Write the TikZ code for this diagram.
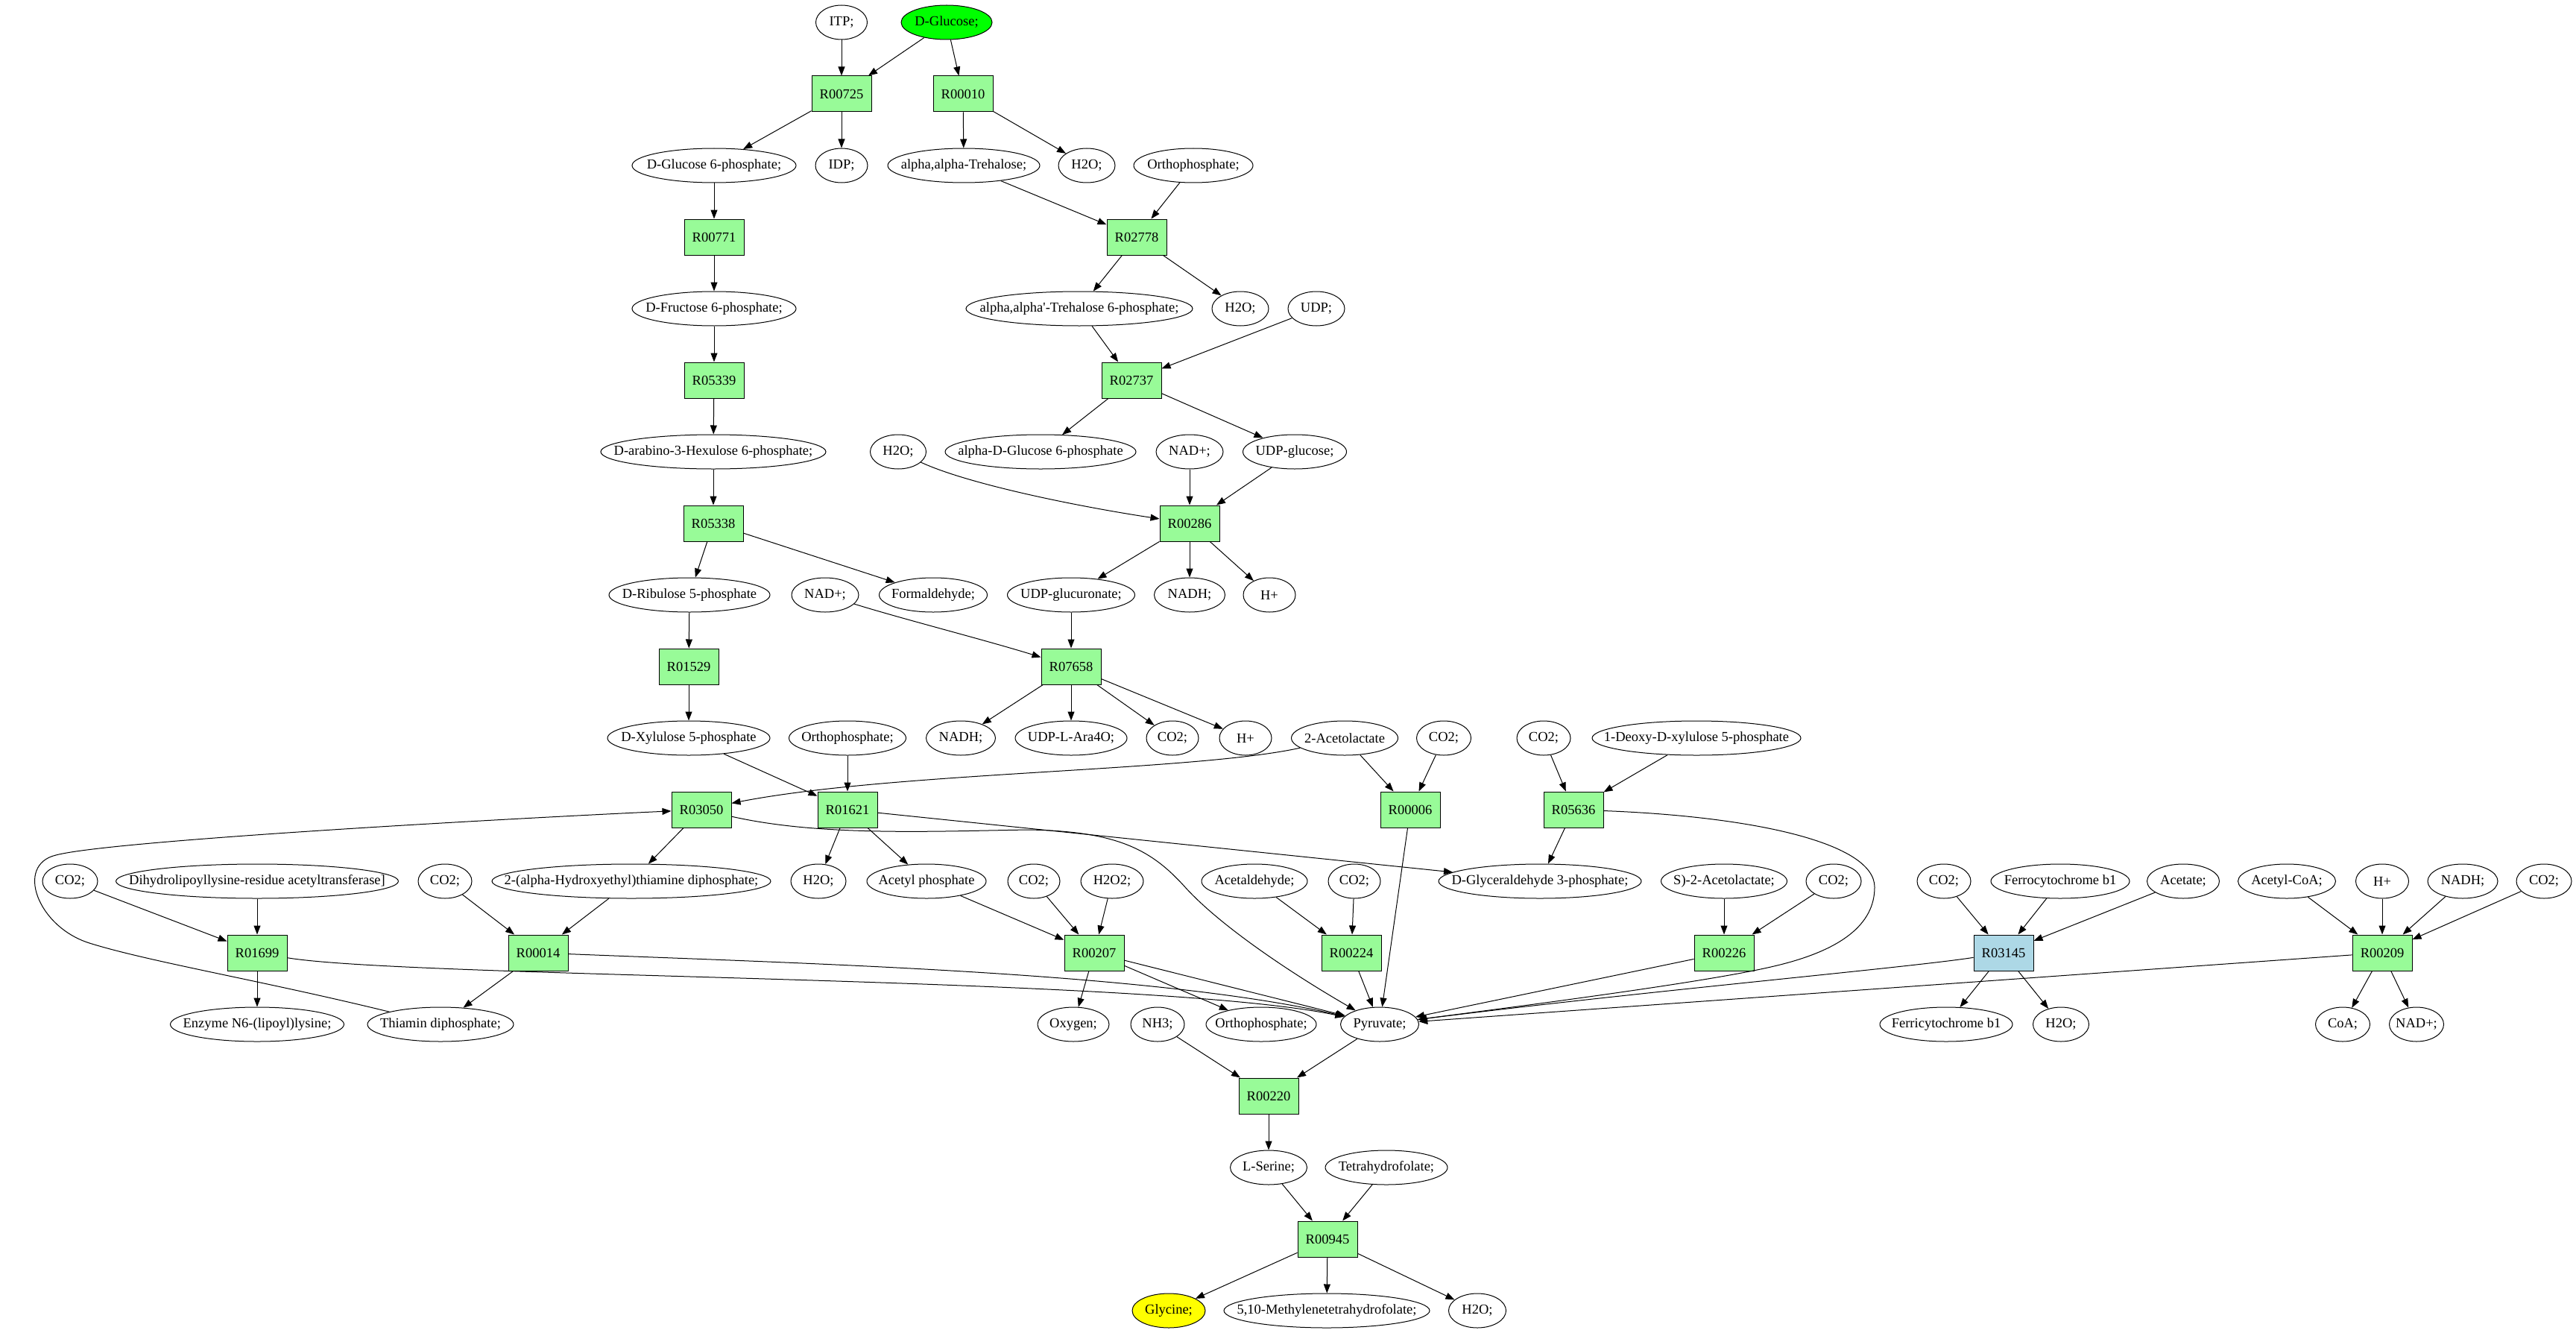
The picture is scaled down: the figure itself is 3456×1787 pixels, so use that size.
\documentclass[tikz,border=0pt]{standalone}
\usepackage{fontspec}
\setmainfont{Liberation Serif}
\usetikzlibrary{shapes.geometric,arrows.meta}
\definecolor{rgreen}{HTML}{98FB98}
\definecolor{rblue}{HTML}{ADD8E6}
\definecolor{sgreen}{HTML}{00FF00}
\definecolor{syellow}{HTML}{FFFF00}
\newcommand\tx[1]{\makebox[0pt]{#1}}
\begin{document}
\begin{tikzpicture}[x=0.5pt,y=-0.5pt,
  every node/.style={font=\fontsize{9.25pt}{11pt}\selectfont},
  met/.style={ellipse,draw,line width=0.5pt,inner sep=0pt,minimum height=23pt,minimum width=#1*0.5pt},
  rxn/.style={rectangle,draw,line width=0.5pt,fill=rgreen,inner sep=0pt,minimum width=40pt,minimum height=24pt},
  arr/.style={-{Triangle[length=6pt,width=4.5pt]},line width=0.5pt}]
\useasboundingbox[fill=white] (0,0) rectangle (3456,1787);
% rank 0
\node[met=69] (itp) at (1129,30) {\tx{ITP;}};
\node[met=122,fill=sgreen] (glc) at (1270,30) {\tx{D-Glucose;}};
% rank 1
\node[rxn] (r00725) at (1129,126) {R00725};
\node[rxn] (r00010) at (1292,126) {R00010};
% rank 2
\node[met=220] (g6p) at (958,222) {\tx{D-Glucose 6-phosphate;}};
\node[met=70] (idp) at (1129,222) {\tx{IDP;}};
\node[met=204] (tre) at (1293,222) {\tx{alpha,alpha-Trehalose;}};
\node[met=76] (h2oa) at (1458,222) {\tx{H2O;}};
\node[met=160] (phosa) at (1601,222) {\tx{Orthophosphate;}};
% rank 3
\node[rxn] (r00771) at (958,318) {R00771};
\node[rxn] (r02778) at (1525,318) {R02778};
% rank 4
\node[met=220] (f6p) at (958,414) {\tx{D-Fructose 6-phosphate;}};
\node[met=304] (t6p) at (1448,414) {\tx{alpha,alpha\textquotesingle-Trehalose 6-phosphate;}};
\node[met=76] (h2ob) at (1664,414) {\tx{H2O;}};
\node[met=76] (udp) at (1766,414) {\tx{UDP;}};
% rank 5
\node[rxn] (r05339) at (958,510) {R05339};
\node[rxn] (r02737) at (1518,510) {R02737};
% rank 6
\node[met=302] (hex) at (957,606) {\tx{D-arabino-3-Hexulose 6-phosphate;}};
\node[met=75] (h2oc) at (1205,606) {\tx{H2O;}};
\node[met=256] (ag6p) at (1396,606) {\tx{alpha-D-Glucose 6-phosphate}};
\node[met=90] (nada) at (1596,606) {\tx{NAD+;}};
\node[met=139] (udpg) at (1737,606) {\tx{UDP-glucose;}};
% rank 7
\node[rxn] (r05338) at (957,702) {R05338};
\node[rxn] (r00286) at (1596,702) {R00286};
% rank 8
\node[met=216] (ru5p) at (925,798) {\tx{D-Ribulose 5-phosphate}};
\node[met=90] (nadb) at (1107,798) {\tx{NAD+;}};
\node[met=145] (form) at (1252,798) {\tx{Formaldehyde;}};
\node[met=171] (udpgn) at (1437,798) {\tx{UDP-glucuronate;}};
\node[met=95] (nadha) at (1596,798) {\tx{NADH;}};
\node[met=70] (ha) at (1703,798) {\tx{H+}};
% rank 9
\node[rxn] (r01529) at (924,894) {R01529};
\node[rxn] (r07658) at (1437,894) {R07658};
% rank 10
\node[met=218] (xu5p) at (924,990) {\tx{D-Xylulose 5-phosphate}};
\node[met=157] (phosb) at (1137,990) {\tx{Orthophosphate;}};
\node[met=93] (nadhb) at (1289,990) {\tx{NADH;}};
\node[met=150] (ara) at (1437,990) {\tx{UDP-L-Ara4O;}};
\node[met=70] (co2a) at (1573,990) {\tx{CO2;}};
\node[met=70] (hb) at (1671,990) {\tx{H+}};
\node[met=143] (acl) at (1804,990) {\tx{2-Acetolactate}};
\node[met=73] (co2b) at (1937,990) {\tx{CO2;}};
\node[met=72] (co2c) at (2071,990) {\tx{CO2;}};
\node[met=280] (dxp) at (2276,990) {\tx{1-Deoxy-D-xylulose 5-phosphate}};
% rank 11
\node[rxn] (r03050) at (941,1086) {R03050};
\node[rxn] (r01621) at (1137,1086) {R01621};
\node[rxn] (r00006) at (1892,1086) {R00006};
\node[rxn] (r05636) at (2111,1086) {R05636};
% rank 12
\node[met=74] (co2d) at (94,1182) {\tx{CO2;}};
\node[met=379] (dla) at (345,1182) {\tx{Dihydrolipoyllysine-residue acetyltransferase]}};
\node[met=72] (co2e) at (597,1182) {\tx{CO2;}};
\node[met=374] (het) at (847,1182) {\tx{2-(alpha-Hydroxyethyl)thiamine diphosphate;}};
\node[met=74] (h2od) at (1098,1182) {\tx{H2O;}};
\node[met=160] (acp) at (1243,1182) {\tx{Acetyl phosphate}};
\node[met=70] (co2f) at (1387,1182) {\tx{CO2;}};
\node[met=84] (h2o2) at (1492,1182) {\tx{H2O2;}};
\node[met=142] (acald) at (1683,1182) {\tx{Acetaldehyde;}};
\node[met=70] (co2g) at (1817,1182) {\tx{CO2;}};
\node[met=272] (gap) at (2066,1182) {\tx{D-Glyceraldehyde 3-phosphate;}};
\node[met=169] (sacl) at (2313,1182) {\tx{S)-2-Acetolactate;}};
\node[met=74] (co2h) at (2460,1182) {\tx{CO2;}};
\node[met=72] (co2i) at (2608,1182) {\tx{CO2;}};
\node[met=186] (ferro) at (2764,1182) {\tx{Ferrocytochrome b1}};
\node[met=97] (acet) at (2929,1182) {\tx{Acetate;}};
\node[met=131] (accoa) at (3068,1182) {\tx{Acetyl-CoA;}};
\node[met=71] (hc) at (3196,1182) {\tx{H+}};
\node[met=94] (nadhc) at (3304,1182) {\tx{NADH;}};
\node[met=74] (co2j) at (3413,1182) {\tx{CO2;}};
% rank 13
\node[rxn] (r01699) at (345,1278) {R01699};
\node[rxn] (r00014) at (722,1278) {R00014};
\node[rxn] (r00207) at (1468,1278) {R00207};
\node[rxn] (r00224) at (1813,1278) {R00224};
\node[rxn] (r00226) at (2313,1278) {R00226};
\node[rxn,fill=rblue] (r03145) at (2688,1278) {R03145};
\node[rxn] (r00209) at (3196,1278) {R00209};
% rank 14
\node[met=233] (enz) at (345,1374) {\tx{Enzyme N6-(lipoyl)lysine;}};
\node[met=196] (thd) at (591,1374) {\tx{Thiamin diphosphate;}};
\node[met=96] (oxy) at (1440,1374) {\tx{Oxygen;}};
\node[met=72] (nh3) at (1553,1374) {\tx{NH3;}};
\node[met=148] (phosc) at (1692,1374) {\tx{Orthophosphate;}};
\node[met=105] (pyr) at (1851,1374) {\tx{Pyruvate;}};
\node[met=178] (ferri) at (2611,1374) {\tx{Ferricytochrome b1}};
\node[met=75] (h2oe) at (2765,1374) {\tx{H2O;}};
\node[met=73] (coa) at (3143,1374) {\tx{CoA;}};
\node[met=73] (nadc) at (3242,1374) {\tx{NAD+;}};
% rank 15-18
\node[rxn] (r00220) at (1702,1470) {R00220};
\node[met=103] (ser) at (1702,1566) {\tx{L-Serine;}};
\node[met=164] (thf) at (1860,1566) {\tx{Tetrahydrofolate;}};
\node[rxn] (r00945) at (1781,1662) {R00945};
\node[met=98,fill=syellow] (gly) at (1568,1758) {\tx{Glycine;}};
\node[met=276] (mthf) at (1780,1758) {\tx{5,10-Methylenetetrahydrofolate;}};
\node[met=77] (h2of) at (1982,1758) {\tx{H2O;}};
% straight edges
\foreach \a/\b in {itp/r00725, glc/r00725, glc/r00010, r00725/g6p, r00725/idp,
  r00010/tre, r00010/h2oa, tre/r02778, phosa/r02778, g6p/r00771, r00771/f6p,
  r02778/t6p, r02778/h2ob, f6p/r05339, t6p/r02737, udp/r02737, r05339/hex,
  r02737/ag6p, r02737/udpg, hex/r05338, nada/r00286, udpg/r00286, r05338/ru5p,
  r05338/form, r00286/udpgn, r00286/nadha, r00286/ha, ru5p/r01529, udpgn/r07658,
  r01529/xu5p, r07658/nadhb, r07658/ara, r07658/co2a, r07658/hb, xu5p/r01621,
  phosb/r01621, acl/r00006, co2b/r00006, co2c/r05636, dxp/r05636, r03050/het,
  r01621/h2od, r01621/acp, r01621/gap, r05636/gap, co2d/r01699, dla/r01699,
  co2e/r00014, het/r00014, r01699/enz, r00014/thd, acp/r00207, co2f/r00207,
  h2o2/r00207, acald/r00224, co2g/r00224, sacl/r00226, co2h/r00226, co2i/r03145,
  ferro/r03145, acet/r03145, accoa/r00209, hc/r00209, nadhc/r00209, co2j/r00209,
  r00207/oxy, r00207/phosc, r00207/pyr, r00224/pyr, r00006/pyr, r00226/pyr,
  r00209/pyr, r03145/ferri, r03145/h2oe, r00209/coa, r00209/nadc, nh3/r00220,
  pyr/r00220, r00220/ser, ser/r00945, thf/r00945, r00945/gly, r00945/mthf,
  r00945/h2of}
  \draw[arr] (\a) -- (\b);
% curved edges
\draw[arr] (acl) .. controls (1600,1035) and (1200,1035) .. (r03050.12);
\draw[arr] (thd) .. controls (350,1315) and (200,1290) .. (120,1265)
  .. controls (50,1243) and (20,1160) .. (75,1147)
  .. controls (150,1127) and (700,1097) .. (r03050);
\draw[arr] (r03050) .. controls (1100,1122) and (1250,1115) .. (1380,1113)
  .. controls (1500,1115) and (1545,1140) .. (1590,1190)
  .. controls (1640,1245) and (1740,1310) .. (pyr);
\draw[arr] (r05636) .. controls (2350,1095) and (2515,1130) .. (2515,1190)
  .. controls (2515,1240) and (2470,1275) .. (2380,1296)
  .. controls (2300,1315) and (2100,1342) .. (pyr);
\draw[arr] (r03145) .. controls (2560,1298) and (2200,1330) .. (pyr);
\draw[arr] (r01699) .. controls (550,1312) and (1550,1310) .. (pyr);
\draw[arr] (r00014) .. controls (1100,1293) and (1550,1305) .. (pyr);
\draw[arr] (h2oc) .. controls (1300,650) and (1450,680) .. (r00286);
\draw[arr] (nadb) .. controls (1210,830) and (1320,858) .. (r07658);
\end{tikzpicture}
\end{document}
